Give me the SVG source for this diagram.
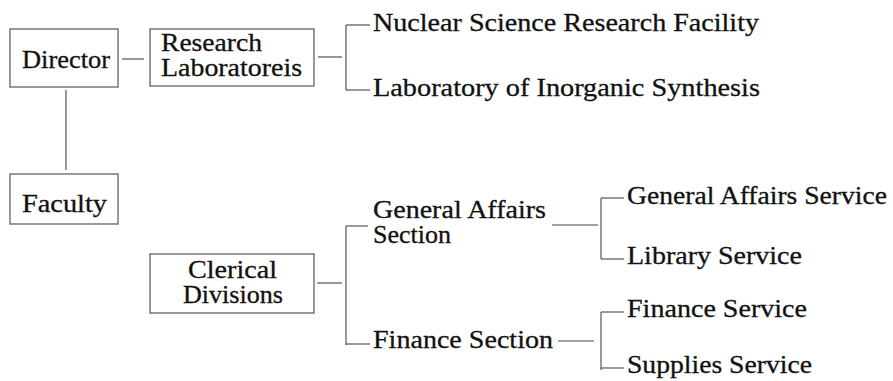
<svg xmlns="http://www.w3.org/2000/svg" width="893" height="381" viewBox="0 0 893 381">
<style>
  .box { fill: #ffffff; stroke: #555; stroke-width: 1.2; }
  .ln { stroke: #444; stroke-width: 1.1; fill: none; }
</style>
<rect x="0" y="0" width="893" height="381" fill="#ffffff"/>
<g id="connectors">
  <line class="ln" x1="122" y1="59" x2="144" y2="59"/>
  <line class="ln" x1="66" y1="90" x2="66" y2="170"/>
  <line class="ln" x1="318" y1="57" x2="342" y2="57"/>
  <line class="ln" x1="346" y1="25" x2="346" y2="90"/>
  <line class="ln" x1="346" y1="25" x2="370" y2="25"/>
  <line class="ln" x1="346" y1="90" x2="370" y2="90"/>
  <line class="ln" x1="317" y1="283" x2="342" y2="283"/>
  <line class="ln" x1="346" y1="226" x2="346" y2="345"/>
  <line class="ln" x1="346" y1="226" x2="368" y2="226"/>
  <line class="ln" x1="346" y1="344" x2="370" y2="344"/>
  <line class="ln" x1="552" y1="225" x2="598" y2="225"/>
  <line class="ln" x1="601" y1="198" x2="601" y2="259"/>
  <line class="ln" x1="601" y1="198" x2="624" y2="198"/>
  <line class="ln" x1="601" y1="259" x2="624" y2="259"/>
  <line class="ln" x1="558" y1="341" x2="594" y2="341"/>
  <line class="ln" x1="601" y1="312" x2="601" y2="370"/>
  <line class="ln" x1="601" y1="312" x2="624" y2="312"/>
  <line class="ln" x1="601" y1="368" x2="624" y2="368"/>
</g>
<g id="director">
  <rect class="box" x="10" y="29" width="108" height="58"/>
  <text x="22" y="68" font-family="Liberation Serif" font-size="25" fill="#111" stroke="#111" stroke-width="0.3" textLength="88" lengthAdjust="spacingAndGlyphs">Director</text>
</g>
<g id="research-laboratories">
  <rect class="box" x="150" y="29" width="164" height="57"/>
  <text x="161" y="51" font-family="Liberation Serif" font-size="25" fill="#111" stroke="#111" stroke-width="0.3" textLength="101" lengthAdjust="spacingAndGlyphs">Research</text>
  <text x="161" y="76" font-family="Liberation Serif" font-size="25" fill="#111" stroke="#111" stroke-width="0.3" textLength="141" lengthAdjust="spacingAndGlyphs">Laboratoreis</text>
</g>
<g id="faculty">
  <rect class="box" x="10" y="174" width="108" height="50"/>
  <text x="22" y="212" font-family="Liberation Serif" font-size="25" fill="#111" stroke="#111" stroke-width="0.3" textLength="85" lengthAdjust="spacingAndGlyphs">Faculty</text>
</g>
<g id="clerical-divisions">
  <rect class="box" x="150" y="254" width="164" height="59"/>
  <text x="188" y="278" font-family="Liberation Serif" font-size="25" fill="#111" stroke="#111" stroke-width="0.3" textLength="89" lengthAdjust="spacingAndGlyphs">Clerical</text>
  <text x="183" y="303" font-family="Liberation Serif" font-size="25" fill="#111" stroke="#111" stroke-width="0.3" textLength="100" lengthAdjust="spacingAndGlyphs">Divisions</text>
</g>
<g id="nuclear-science">
  <text x="373" y="31" font-family="Liberation Serif" font-size="25" fill="#111" stroke="#111" stroke-width="0.3" textLength="386" lengthAdjust="spacingAndGlyphs">Nuclear Science Research Facility</text>
</g>
<g id="inorganic-synthesis">
  <text x="373" y="96" font-family="Liberation Serif" font-size="25" fill="#111" stroke="#111" stroke-width="0.3" textLength="387" lengthAdjust="spacingAndGlyphs">Laboratory of Inorganic Synthesis</text>
</g>
<g id="general-affairs-section">
  <text x="373" y="218" font-family="Liberation Serif" font-size="25" fill="#111" stroke="#111" stroke-width="0.3" textLength="173" lengthAdjust="spacingAndGlyphs">General Affairs</text>
  <text x="373" y="243" font-family="Liberation Serif" font-size="25" fill="#111" stroke="#111" stroke-width="0.3" textLength="78" lengthAdjust="spacingAndGlyphs">Section</text>
</g>
<g id="finance-section">
  <text x="373" y="348" font-family="Liberation Serif" font-size="25" fill="#111" stroke="#111" stroke-width="0.3" textLength="180" lengthAdjust="spacingAndGlyphs">Finance Section</text>
</g>
<g id="general-affairs-service">
  <text x="627" y="204" font-family="Liberation Serif" font-size="25" fill="#111" stroke="#111" stroke-width="0.3" textLength="260" lengthAdjust="spacingAndGlyphs">General Affairs Service</text>
</g>
<g id="library-service">
  <text x="627" y="264" font-family="Liberation Serif" font-size="25" fill="#111" stroke="#111" stroke-width="0.3" textLength="175" lengthAdjust="spacingAndGlyphs">Library Service</text>
</g>
<g id="finance-service">
  <text x="627" y="317" font-family="Liberation Serif" font-size="25" fill="#111" stroke="#111" stroke-width="0.3" textLength="180" lengthAdjust="spacingAndGlyphs">Finance Service</text>
</g>
<g id="supplies-service">
  <text x="627" y="373" font-family="Liberation Serif" font-size="25" fill="#111" stroke="#111" stroke-width="0.3" textLength="185" lengthAdjust="spacingAndGlyphs">Supplies Service</text>
</g>
</svg>
